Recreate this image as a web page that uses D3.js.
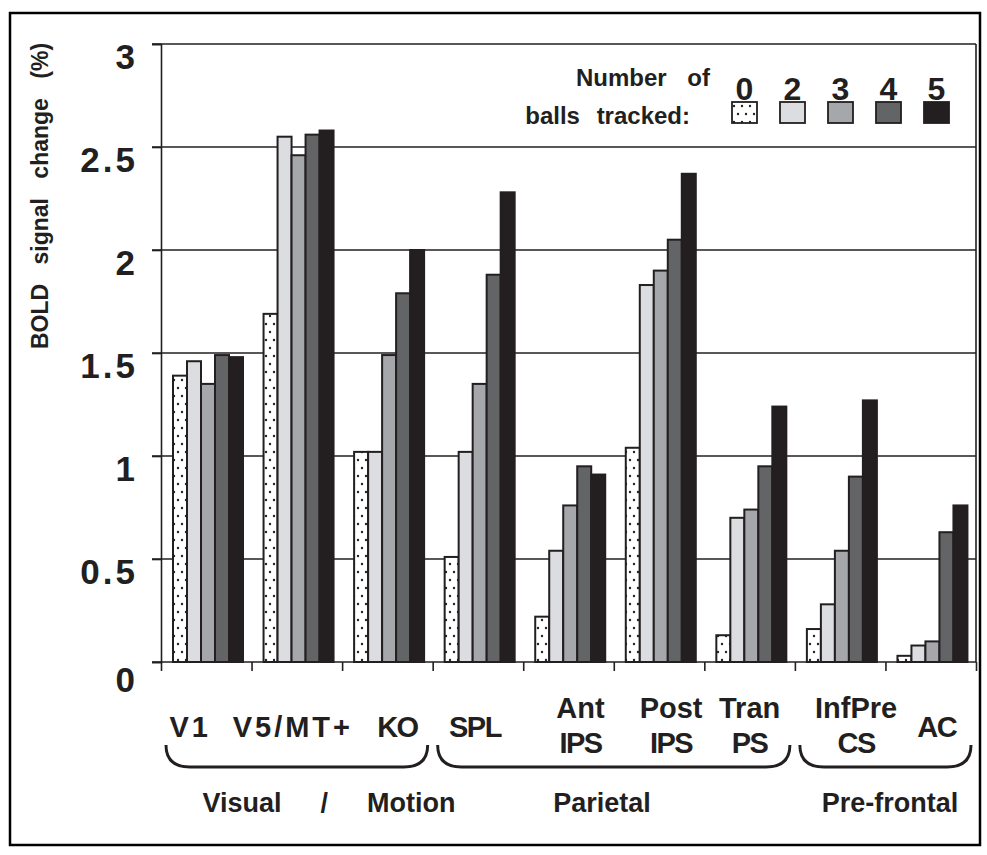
<!DOCTYPE html>
<html>
<head>
<meta charset="utf-8">
<script src="https://cdn.jsdelivr.net/npm/d3@7"></script>
<style>
body { margin: 0; background: #fff; }
text { font-family: "Liberation Sans", Arial, sans-serif; font-weight: bold; fill: #231f20; }
</style>
</head>
<body>
<div id="chart"></div>
<script>
// data
var regions = ["V1", "V5/MT+", "KO", "SPL", "Ant IPS", "Post IPS", "Tran PS", "InfPre CS", "AC"];
var ballCounts = ["0", "2", "3", "4", "5"];
var balls0 = [1.39, 1.69, 1.02, 0.51, 0.22, 1.04, 0.13, 0.16, 0.03];
var balls2 = [1.46, 2.55, 1.02, 1.02, 0.54, 1.83, 0.70, 0.28, 0.08];
var balls3 = [1.35, 2.46, 1.49, 1.35, 0.76, 1.90, 0.74, 0.54, 0.10];
var balls4 = [1.49, 2.56, 1.79, 1.88, 0.95, 2.05, 0.95, 0.90, 0.63];
var balls5 = [1.48, 2.58, 2.00, 2.28, 0.91, 2.37, 1.24, 1.27, 0.76];
var yTicks = [0, 0.5, 1, 1.5, 2, 2.5, 3];
var areaNames = ["Visual  /  Motion", "Parietal", "Pre-frontal"];
var areaFirst = [0, 3, 7];
var areaLast = [2, 6, 8];

var series = [balls0, balls2, balls3, balls4, balls5];
var fills = ["url(#dots)", "#dcdde0", "#a6a7ab", "#636466", "#231f20"];
var ink = "#231f20";

var W = 987, H = 855;
var plotL = 161, plotR = 976, plotT = 44, plotB = 662;

var svg = d3.select("#chart").append("svg")
    .attr("width", W)
    .attr("height", H);

// dotted fill for the 0-ball bars
var pat = svg.append("defs").append("pattern")
    .attr("id", "dots")
    .attr("patternUnits", "userSpaceOnUse")
    .attr("width", 8)
    .attr("height", 16);
pat.append("rect").attr("width", 8).attr("height", 16).attr("fill", "#fff");
pat.append("circle").attr("cx", 2).attr("cy", 4).attr("r", 1.2).attr("fill", "#222");
pat.append("circle").attr("cx", 6).attr("cy", 12).attr("r", 1.2).attr("fill", "#222");

// outer frame
svg.append("rect")
    .attr("x", 10).attr("y", 13)
    .attr("width", 970).attr("height", 832)
    .attr("fill", "none").attr("stroke", "#000").attr("stroke-width", 2.5);

var y = d3.scaleLinear().domain([0, 3]).range([plotB, plotT]);
var x0 = d3.scaleBand().domain(regions).range([plotL, plotR]);
var x1 = d3.scaleBand().domain(ballCounts).range([12, 82]);

// grid lines
svg.append("g").selectAll("line")
    .data(yTicks)
    .join("line")
    .attr("x1", plotL - 9).attr("x2", plotR)
    .attr("y1", d => y(d)).attr("y2", d => y(d))
    .attr("stroke", ink).attr("stroke-width", 1.6);

svg.append("line")
    .attr("x1", plotR).attr("x2", plotR)
    .attr("y1", plotT).attr("y2", plotB)
    .attr("stroke", ink).attr("stroke-width", 1.6);

// y axis
var yAxis = svg.append("g")
    .attr("transform", "translate(" + plotL + ",0)")
    .call(d3.axisLeft(y).tickValues(yTicks).tickSize(9).tickFormat(""));
yAxis.select(".domain").attr("stroke", ink).attr("stroke-width", 1.6);
yAxis.selectAll(".tick line").attr("stroke", ink).attr("stroke-width", 1.6);

svg.append("g").selectAll("text")
    .data(yTicks)
    .join("text")
    .attr("x", 138)
    .attr("y", d => y(d) + (d === 0 ? 30 : 25))
    .attr("text-anchor", "end")
    .attr("font-size", 35)
    .attr("letter-spacing", 3)
    .text(d => String(d));

svg.append("text")
    .attr("transform", "translate(48,196) rotate(-90)")
    .attr("text-anchor", "middle")
    .attr("font-size", 23)
    .attr("word-spacing", 13)
    .text("BOLD signal change (%)");

// x axis ticks on group edges
var xi = d3.scaleLinear().domain([0, regions.length]).range([plotL, plotR]);
var xAxis = svg.append("g")
    .attr("transform", "translate(0," + plotB + ")")
    .call(d3.axisBottom(xi).tickValues(d3.range(regions.length + 1)).tickSize(9).tickFormat(""));
xAxis.select(".domain").remove();
xAxis.selectAll(".tick line").attr("stroke", ink).attr("stroke-width", 1.6);

// bars
var cells = [];
regions.forEach(function (r, i) {
    series.forEach(function (s, j) {
        cells.push({ region: r, ball: ballCounts[j], value: s[i], fill: fills[j] });
    });
});

svg.append("g").selectAll("rect")
    .data(cells)
    .join("rect")
    .attr("x", d => x0(d.region) + x1(d.ball))
    .attr("y", d => y(d.value))
    .attr("width", x1.bandwidth())
    .attr("height", d => y(0) - y(d.value))
    .attr("fill", d => d.fill)
    .attr("stroke", ink)
    .attr("stroke-width", 2);

// region labels
var nudge = [-16, -4, 10, -3, 12, 12, 0, 16, 6];
regions.forEach(function (r, i) {
    var words = r.split(" ");
    var cx = x0(r) + x0.bandwidth() / 2 + nudge[i];
    words.forEach(function (w, k) {
        var by = words.length === 1 ? 737 : (k === 0 ? 718 : 753);
        var ls = (w === "V1" || w === "V5/MT+") ? 3 : (w === w.toUpperCase() ? -1.5 : 0);
        svg.append("text")
            .attr("x", cx)
            .attr("y", by)
            .attr("text-anchor", "middle")
            .attr("font-size", 29)
            .attr("letter-spacing", ls)
            .text(w);
    });
});

// braces and area names
areaNames.forEach(function (name, i) {
    var a = x0(regions[areaFirst[i]]) + 5;
    var b = x0(regions[areaLast[i]]) + x0.bandwidth() - 5;
    var t = 745, bt = 767, r = 24;
    var p = d3.path();
    p.moveTo(a, t);
    p.quadraticCurveTo(a, bt, a + r, bt);
    p.lineTo(b - r, bt);
    p.quadraticCurveTo(b, bt, b, t);
    svg.append("path")
        .attr("d", p.toString())
        .attr("fill", "none")
        .attr("stroke", ink)
        .attr("stroke-width", 3);
});

var areaX = [329, 602, 890];
areaNames.forEach(function (name, i) {
    svg.append("text")
        .attr("x", areaX[i])
        .attr("y", 812)
        .attr("text-anchor", "middle")
        .attr("font-size", 27)
        .attr("word-spacing", i === 0 ? 12 : 0)
        .style("white-space", "pre")
        .text(name);
});

// legend
svg.append("text")
    .attr("x", 643).attr("y", 86)
    .attr("text-anchor", "middle")
    .attr("font-size", 24)
    .attr("word-spacing", 14)
    .text("Number of");
svg.append("text")
    .attr("x", 690).attr("y", 124)
    .attr("text-anchor", "end")
    .attr("font-size", 24)
    .attr("word-spacing", 10)
    .text("balls tracked:");

var leg = svg.append("g").selectAll("g")
    .data(ballCounts)
    .join("g")
    .attr("transform", (d, i) => "translate(" + (732 + i * 48) + ",102)");
leg.append("rect")
    .attr("width", 25).attr("height", 21)
    .attr("fill", (d, i) => fills[i])
    .attr("stroke", ink).attr("stroke-width", 1.8);
leg.append("text")
    .attr("x", 12.5).attr("y", -2)
    .attr("text-anchor", "middle")
    .attr("font-size", 32)
    .text(d => d);
</script>
</body>
</html>
